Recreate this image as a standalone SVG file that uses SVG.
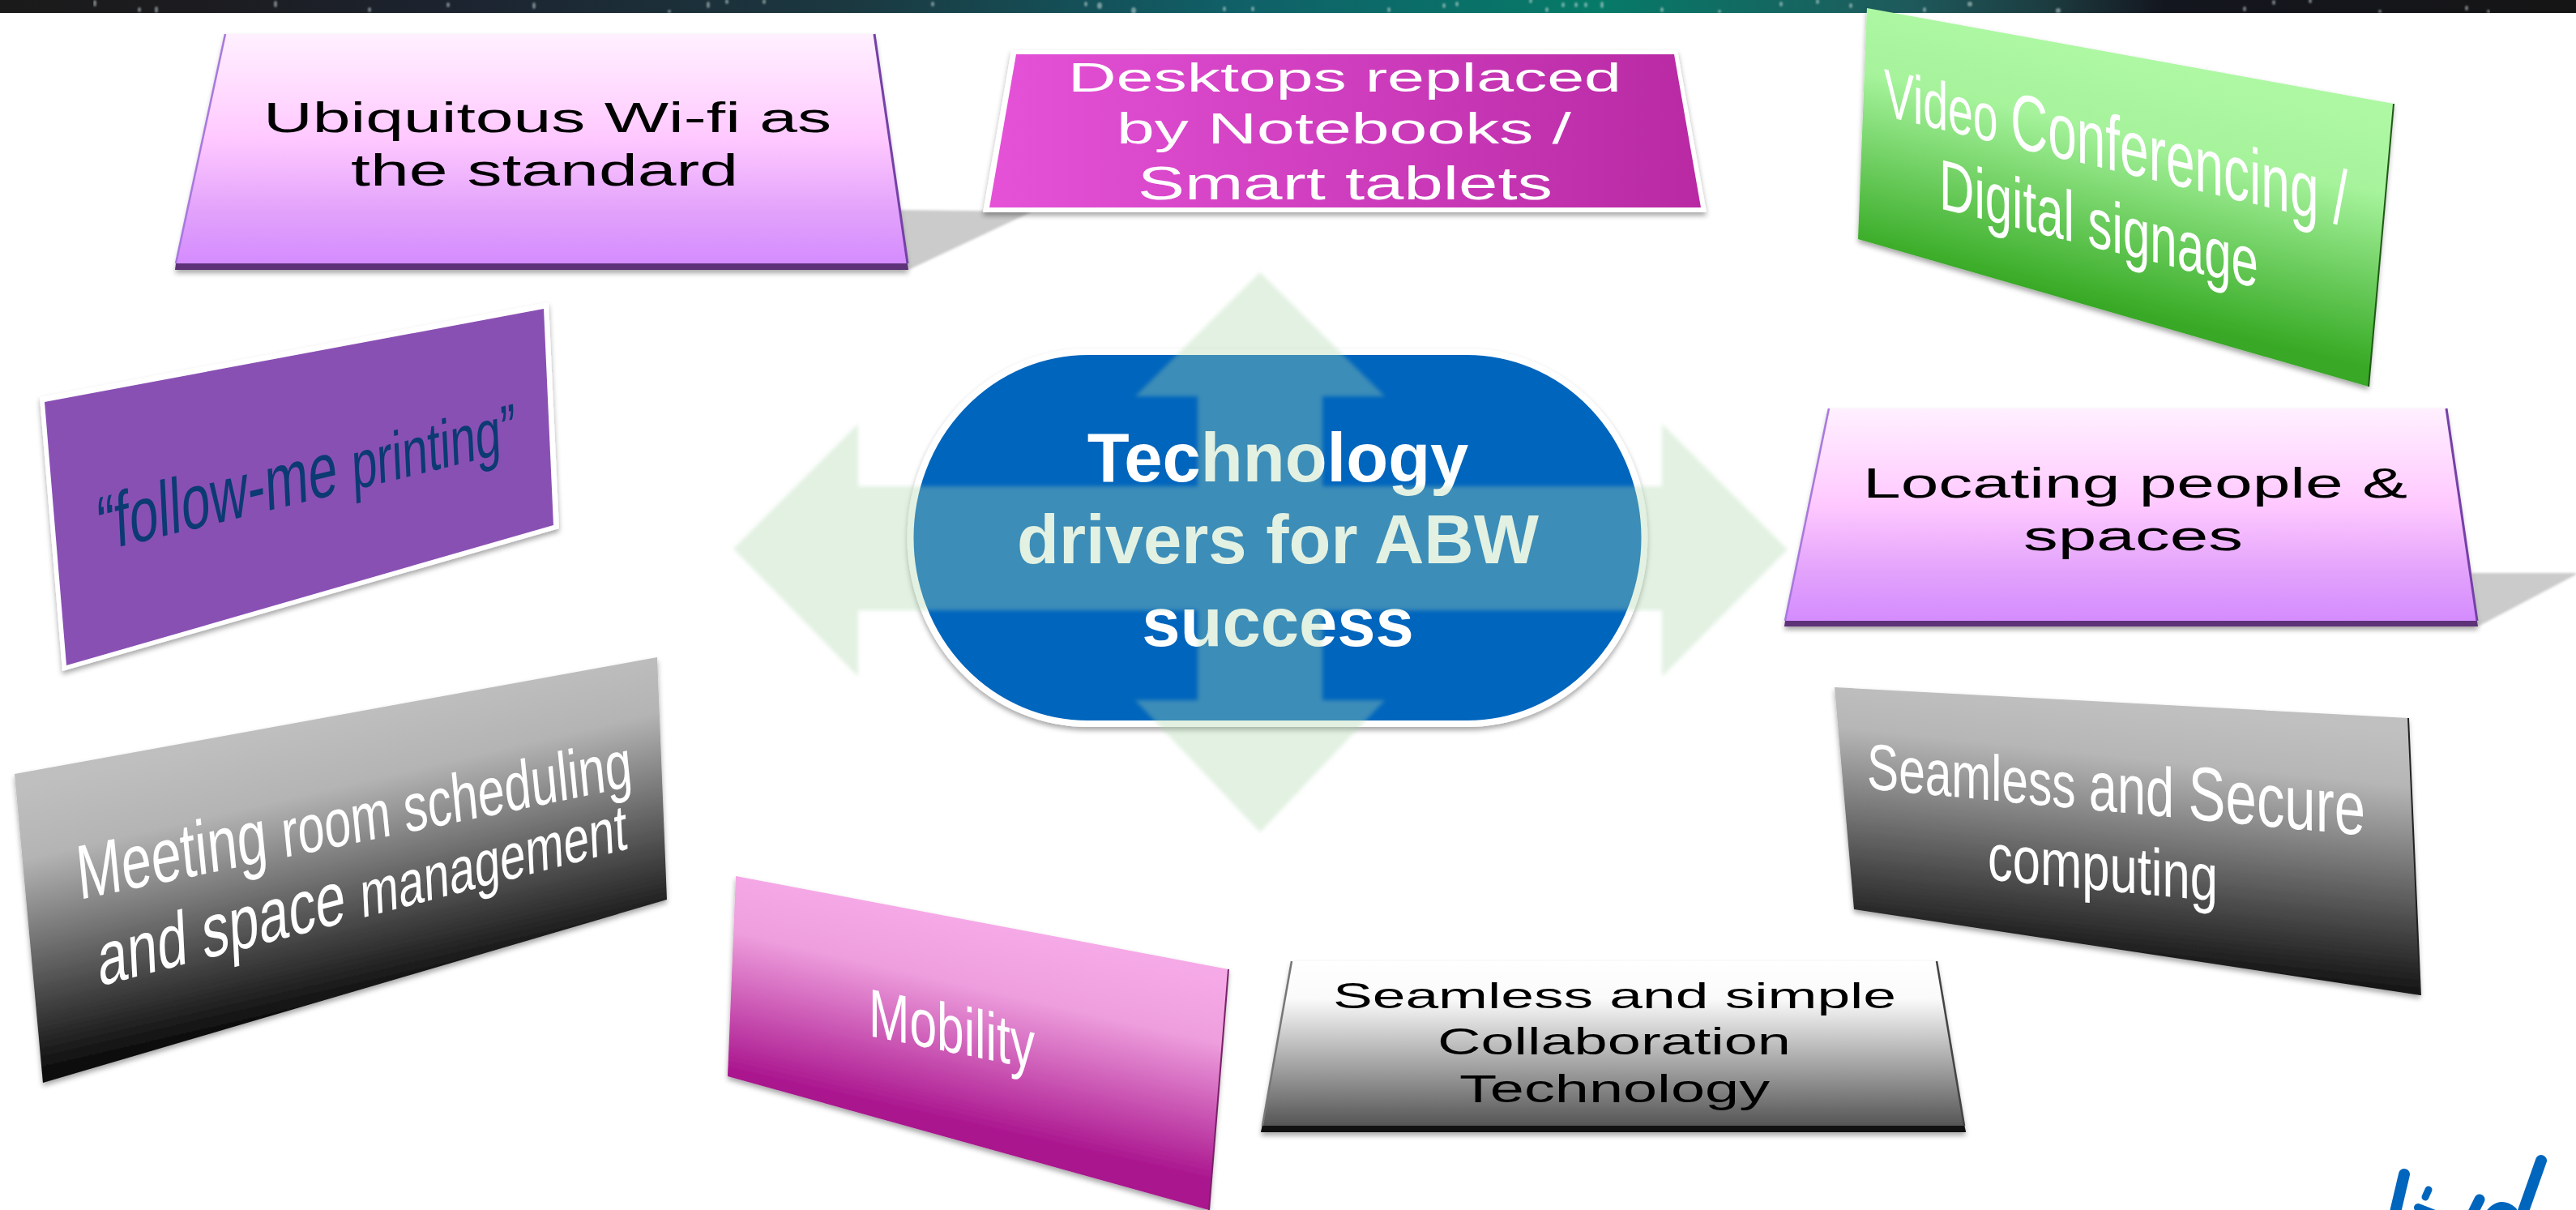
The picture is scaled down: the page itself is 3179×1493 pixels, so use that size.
<svg xmlns="http://www.w3.org/2000/svg" width="3179" height="1493" viewBox="0 0 3179 1493">
<style>
text{font-family:"Liberation Sans",Arial,sans-serif}
.w{fill:#fff}.k{fill:#000}
.s{fill:#d8e6e6;opacity:.5}
</style>
<defs>
<linearGradient id="sky" x1="0" x2="1" y1="0" y2="0">
<stop offset="0" stop-color="#1a1a1a"/><stop offset=".08" stop-color="#1c1c20"/><stop offset=".18" stop-color="#1c2430"/><stop offset=".33" stop-color="#1b3840"/><stop offset=".48" stop-color="#106068"/><stop offset=".62" stop-color="#067a68"/><stop offset=".74" stop-color="#1e5a5c"/><stop offset=".795" stop-color="#1c3c40"/><stop offset=".84" stop-color="#14161f"/><stop offset="1" stop-color="#151515"/>
</linearGradient>
<linearGradient id="lilac" x1="0" x2="0" y1="0" y2="1">
<stop offset="0" stop-color="#fff0ff"/><stop offset=".44" stop-color="#ffc9ff"/><stop offset=".75" stop-color="#e2a2fb"/><stop offset="1" stop-color="#d389ff"/>
</linearGradient>
<linearGradient id="mag" x1="0" x2="1" y1="0" y2="0"><stop offset="0" stop-color="#e552d8"/><stop offset="1" stop-color="#b829a3"/></linearGradient>
<linearGradient id="grn" gradientUnits="userSpaceOnUse" x1="2620" y1="69" x2="2550" y2="369">
<stop offset="0" stop-color="#aef8a4"/><stop offset=".3" stop-color="#a6f39c"/><stop offset=".95" stop-color="#3dae2b"/><stop offset="1" stop-color="#38a826"/></linearGradient>
<linearGradient id="g1" gradientUnits="userSpaceOnUse" x1="415" y1="880" x2="495" y2="1225">
<stop offset="0" stop-color="#bfbfbf"/><stop offset=".25" stop-color="#b4b4b4"/><stop offset="1" stop-color="#0a0a0a"/></linearGradient>
<linearGradient id="g2" gradientUnits="userSpaceOnUse" x1="2618" y1="867" x2="2584" y2="1195">
<stop offset="0" stop-color="#c0c0c0"/><stop offset=".2" stop-color="#b6b6b6"/><stop offset="1" stop-color="#0e0e0e"/></linearGradient>
<linearGradient id="g3" x1="0" x2="0" y1="0" y2="1">
<stop offset="0" stop-color="#fff"/><stop offset=".22" stop-color="#fafafa"/><stop offset=".95" stop-color="#585858"/><stop offset="1" stop-color="#484848"/></linearGradient>
<linearGradient id="pk" gradientUnits="userSpaceOnUse" x1="1212" y1="1138" x2="1153" y2="1396">
<stop offset="0" stop-color="#f6a9e7"/><stop offset=".3" stop-color="#ee9edd"/><stop offset=".95" stop-color="#a9138d"/><stop offset="1" stop-color="#a9138d"/></linearGradient>
<filter id="sh" x="-5%" y="-5%" width="110%" height="115%"><feDropShadow dx="0" dy="4" stdDeviation="3" flood-color="#000" flood-opacity=".35"/></filter>
<filter id="soft" x="-5%" y="-5%" width="110%" height="110%"><feGaussianBlur stdDeviation="1.5"/></filter>
<filter id="soft2" x="-5%" y="-5%" width="110%" height="110%"><feGaussianBlur stdDeviation="2.5"/></filter>
<filter id="soft3" x="0" y="-20%" width="100%" height="140%"><feGaussianBlur stdDeviation="1"/></filter>
</defs>
<rect width="3179" height="1493" fill="#fff"/>
<g id="background">
<rect width="3179" height="16" fill="url(#sky)"/>
<svg x="0" y="0" width="3179" height="16" viewBox="0 0 3179 16">
<g filter="url(#soft3)">
<ellipse class="s" cx="117" cy="4" rx="2" ry="4"/><ellipse class="s" cx="193" cy="12" rx="2" ry="4"/><ellipse class="s" cx="172" cy="12" rx="2" ry="3"/><ellipse class="s" cx="340" cy="5" rx="2" ry="4"/><ellipse class="s" cx="456" cy="12" rx="2" ry="3"/><ellipse class="s" cx="553" cy="6" rx="2" ry="3"/><ellipse class="s" cx="659" cy="7" rx="2" ry="4"/><ellipse class="s" cx="826" cy="14" rx="2" ry="2"/><ellipse class="s" cx="874" cy="6" rx="2" ry="4"/><ellipse class="s" cx="897" cy="2" rx="2" ry="3"/><ellipse class="s" cx="943" cy="2" rx="2" ry="3"/><ellipse class="s" cx="1151" cy="5" rx="2" ry="3"/><ellipse class="s" cx="1340" cy="5" rx="2" ry="3"/><ellipse class="s" cx="1357" cy="7" rx="3" ry="4"/><ellipse class="s" cx="1399" cy="13" rx="3" ry="4"/><ellipse class="s" cx="1546" cy="11" rx="2" ry="3"/><ellipse class="s" cx="1511" cy="11" rx="2" ry="3"/>
<ellipse class="s" cx="1714" cy="12" rx="2" ry="3"/><ellipse class="s" cx="1798" cy="5" rx="2" ry="3"/><ellipse class="s" cx="1782" cy="7" rx="2" ry="3"/><ellipse class="s" cx="1889" cy="1" rx="2" ry="3"/><ellipse class="s" cx="1909" cy="12" rx="2" ry="3"/><ellipse class="s" cx="1929" cy="6" rx="2" ry="3"/><ellipse class="s" cx="1945" cy="6" rx="2" ry="3"/><ellipse class="s" cx="1957" cy="6" rx="2" ry="3"/><ellipse class="s" cx="1977" cy="6" rx="2" ry="4"/><ellipse class="s" cx="2051" cy="12" rx="2" ry="3"/><ellipse class="s" cx="2122" cy="14" rx="2" ry="2"/><ellipse class="s" cx="2198" cy="5" rx="2" ry="3"/><ellipse class="s" cx="2243" cy="2" rx="2" ry="3"/><ellipse class="s" cx="2284" cy="7" rx="2" ry="3"/><ellipse class="s" cx="2375" cy="12" rx="2" ry="3"/><ellipse class="s" cx="2431" cy="5" rx="3" ry="3"/><ellipse class="s" cx="2540" cy="13" rx="3" ry="3"/><ellipse class="s" cx="2770" cy="11" rx="2" ry="3"/><ellipse class="s" cx="2806" cy="3" rx="2" ry="3"/><ellipse class="s" cx="2851" cy="1" rx="2" ry="3"/><ellipse class="s" cx="2937" cy="14" rx="2" ry="2"/><ellipse class="s" cx="3044" cy="10" rx="2" ry="3"/><ellipse class="s" cx="3071" cy="14" rx="2" ry="2"/>
</g>
</svg>
</g>

<g id="node-wifi">
<polygon points="1108,259 1274,261 1121,333" fill="#cbcbcb" filter="url(#soft)"/>
<polygon points="278,42 1079,42 1121,333 216,333" fill="url(#lilac)" filter="url(#sh)"/>
<polygon points="216,333 1121,333 1120,325 217,325" fill="#5d3278"/>
<polyline points="278,42 217,325" fill="none" stroke="#a878e0" stroke-width="2.5"/>
<polyline points="1079,42 1120,325" fill="none" stroke="#7540a8" stroke-width="3"/>
<text class="k" font-size="52" transform="translate(325 163)" textLength="701" lengthAdjust="spacingAndGlyphs">Ubiquitous Wi-fi as</text>
<text class="k" font-size="55" transform="translate(433 229)" textLength="478" lengthAdjust="spacingAndGlyphs">the standard</text>
</g>

<g id="node-desktops">
<polygon points="1248,62 2070,62 2106,262 1213,262" fill="#fff" filter="url(#sh)"/>
<polygon points="1254,67 2066,67 2099,256 1221,256" fill="url(#mag)"/>
<text class="w" font-size="50" transform="translate(1318 113)" textLength="683" lengthAdjust="spacingAndGlyphs">Desktops replaced</text>
<text class="w" font-size="53" transform="translate(1378 177)" textLength="561" lengthAdjust="spacingAndGlyphs">by Notebooks /</text>
<text class="w" font-size="57" transform="translate(1404 246)" textLength="512" lengthAdjust="spacingAndGlyphs">Smart tablets</text>
</g>

<g id="node-video">
<polygon points="2304,10 2954,128 2923,477 2293,295" fill="url(#grn)" filter="url(#sh)"/>
<polyline points="2954,128 2923,477" fill="none" stroke="#1e5a14" stroke-width="2"/>
<text class="w" font-size="84" transform="matrix(1 .238 0 1 2325 143)" textLength="572" lengthAdjust="spacingAndGlyphs"><tspan>Video </tspan><tspan font-size="97">Conferencing /</tspan></text>
<text class="w" font-size="88" transform="matrix(1 .25 0 1 2393 257)" textLength="394" lengthAdjust="spacingAndGlyphs">Digital signage</text>
</g>

<g id="node-followme">
<polygon points="49,490 677,373 690,652 77,828" fill="#fff" filter="url(#sh)"/>
<polygon points="55,496 671,381 683,648 82,821" fill="#8950b4"/>
<text fill="#0c3a72" font-size="96" transform="matrix(1 -.243 .05 1 122 681)" textLength="516" lengthAdjust="spacingAndGlyphs">“follow-me <tspan font-size="84">printing”</tspan></text>
</g>

<g id="node-meeting">
<polygon points="18,955 811,811 823,1110 53,1336" fill="url(#g1)" filter="url(#sh)"/>
<text class="w" font-size="94" transform="matrix(1 -.205 .1 1 98 1110)" textLength="684" lengthAdjust="spacingAndGlyphs">Meeting <tspan font-size="84">room scheduling</tspan></text>
<text class="w" font-size="94" transform="matrix(1 -.26 .05 1 122 1217)" textLength="653" lengthAdjust="spacingAndGlyphs">and space <tspan font-size="80">management</tspan></text>
</g>

<g id="node-mobility">
<polygon points="908,1081 1516,1196 1492,1493 898,1328" fill="url(#pk)" filter="url(#sh)"/>
<polyline points="1516,1196 1492,1493" fill="none" stroke="#7a2068" stroke-width="2"/>
<text class="w" font-size="84" transform="matrix(1 .2 0 1 1072 1278)" textLength="205" lengthAdjust="spacingAndGlyphs">Mobility</text>
</g>

<g id="node-collab">
<polygon points="1594,1186 2390,1186 2426,1397 1556,1397" fill="url(#g3)" filter="url(#sh)"/>
<polygon points="1556,1397 2426,1397 2424,1389 1558,1389" fill="#111"/>
<polyline points="1594,1186 1558,1389" fill="none" stroke="#777" stroke-width="2.5"/>
<polyline points="2390,1186 2424,1389" fill="none" stroke="#444" stroke-width="2.5"/>
<text class="k" font-size="44" transform="translate(1645 1244)" textLength="695" lengthAdjust="spacingAndGlyphs">Seamless and simple</text>
<text class="k" font-size="46" transform="translate(1774 1301)" textLength="436" lengthAdjust="spacingAndGlyphs">Collaboration</text>
<text class="k" font-size="48" transform="translate(1801 1360)" textLength="383" lengthAdjust="spacingAndGlyphs">Technology</text>
</g>

<g id="node-secure">
<polygon points="2264,848 2972,886 2987,1228 2288,1122" fill="url(#g2)" filter="url(#sh)"/>
<polyline points="2972,886 2987,1228" fill="none" stroke="#222" stroke-width="2"/>
<text class="w" font-size="80" transform="matrix(1 .094 0 1 2304 973)" textLength="615" lengthAdjust="spacingAndGlyphs">Seamless <tspan font-size="86">and </tspan><tspan font-size="94">Secure</tspan></text>
<text class="w" font-size="82" transform="matrix(1 .095 0 1 2453 1085)" textLength="284" lengthAdjust="spacingAndGlyphs">computing</text>
</g>

<g id="node-locating">
<polygon points="3050,707 3179,707 3179,709 3058,773" fill="#cbcbcb" filter="url(#soft)"/>
<polygon points="2257,504 3019,504 3058,773 2202,773" fill="url(#lilac)" filter="url(#sh)"/>
<polygon points="2202,773 3058,773 3057,766 2203,766" fill="#5d3278"/>
<polyline points="2257,504 2203,766" fill="none" stroke="#a878e0" stroke-width="2.5"/>
<polyline points="3019,504 3057,766" fill="none" stroke="#7540a8" stroke-width="3"/>
<text class="k" font-size="52" transform="translate(2299 614)" textLength="672" lengthAdjust="spacingAndGlyphs">Locating people &amp;</text>
<text class="k" font-size="52" transform="translate(2497 679)" textLength="271" lengthAdjust="spacingAndGlyphs">spaces</text>
</g>

<g id="node-center">
<rect x="1123.5" y="434" width="906" height="459" rx="219" ry="229.5" fill="#0065bd" stroke="#fff" stroke-width="8" filter="url(#sh)"/>
<text class="w" font-size="85" font-weight="700" text-anchor="middle" transform="translate(1577 594)">Technology</text>
<text class="w" font-size="85" font-weight="700" text-anchor="middle" transform="translate(1577 695)">drivers for ABW</text>
<text class="w" font-size="85" font-weight="700" text-anchor="middle" transform="translate(1577 797)">success</text>
</g>

<g id="connectors">
<path d="M1555,336 L1709,489 H1632 V600 H2051 V523 L2206,678 L2051,835 V753 H1632 V864 H1709 L1555,1027 L1401,864 H1478 V753 H1059 V835 L905,677 L1059,523 V600 H1478 V489 H1401 Z" fill="#abd8ab" fill-opacity=".35" filter="url(#soft2)"/>
</g>

<g id="logo-fragment" fill="none" stroke="#0065bd" stroke-linecap="round">
<path d="M2967,1449 L2955,1500" stroke-width="14"/>
<path d="M2997,1468 L2993,1477" stroke-width="9"/>
<path d="M2984,1490 L3010,1500" stroke-width="10"/>
<path d="M3060,1480 L3050,1500" stroke-width="13"/>
<path d="M3072,1500 Q3085,1482 3100,1495" stroke-width="13"/>
<path d="M3136,1432 L3112,1500" stroke-width="14"/>
</g>
</svg>
